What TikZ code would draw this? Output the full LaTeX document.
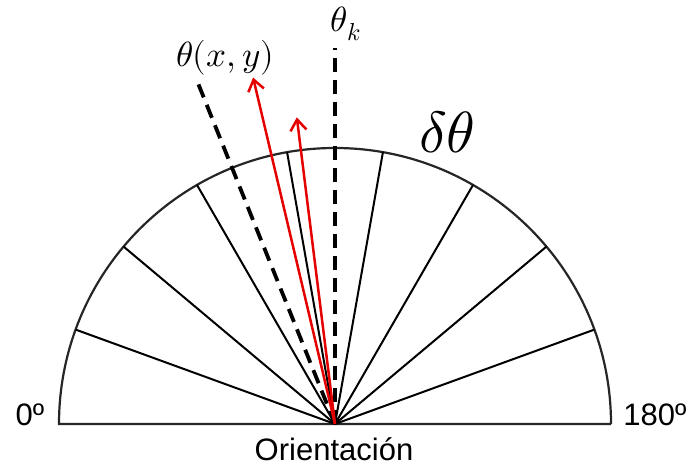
\documentclass[tikz,border=0pt]{standalone}
\usepackage{fontspec}
\usepackage{unicode-math}
\setmainfont{Liberation Sans}
\setmathfont{Latin Modern Math}
\usetikzlibrary{arrows.meta,calc}
\begin{document}
\begin{tikzpicture}[x=1pt,y=1pt,
  rim/.style={line width=2.2pt,black!85},
  spoke/.style={line width=2pt,black},
  dashref/.style={line width=3.8pt,black,dash pattern=on 14pt off 8pt},
  redvec/.style={line width=2.5pt,red!90!black,-{Straight Barb[length=11pt,width=16pt,line width=2.5pt]}},
  lbl/.style={inner sep=0pt,font=\fontsize{31}{31}\selectfont},
  mlbl/.style={inner sep=0pt,font=\fontsize{35}{35}\selectfont}]
\useasboundingbox (0,0) rectangle (690,466);
\coordinate (O) at (335,42);
\coordinate (L) at (59,42);
\coordinate (R) at (611,42);
% semicircle
\draw[rim] (R) arc[start angle=0,end angle=180,radius=276] -- (R);
% spokes
\foreach \a in {20,40,...,160}{
  \coordinate (s\a) at ($(O)+(\a:276)$);
  \draw[spoke] (O) -- (s\a);
}
% dashed reference lines
\coordinate (k) at ($(O)+(90:376)$);
\coordinate (xy) at ($(O)+(111.9:373)$);
\draw[dashref] (O) -- (k);
\draw[dashref] (O) -- (xy);
% red vectors
\coordinate (v1) at ($(O)+(103.3:356)$);
\coordinate (v2) at ($(O)+(97.1:309)$);
\draw[redvec] (O) -- (v1);
\draw[redvec] (O) -- (v2);
% labels
\node[mlbl] (txy) at (225,408) {$\theta(x,y)$};
\node[mlbl] (tk) at (346,442) {$\theta_k$};
\node[inner sep=0pt,font=\fontsize{58}{58}\selectfont] (dt) at (447,334) {$\delta\theta$};
\node[lbl] (zero) at (30,51) {0º};
\node[lbl] (oneeighty) at (655,51) {180º};
\node[lbl] (ori) at (334,17) {Orientación};
\end{tikzpicture}
\end{document}
